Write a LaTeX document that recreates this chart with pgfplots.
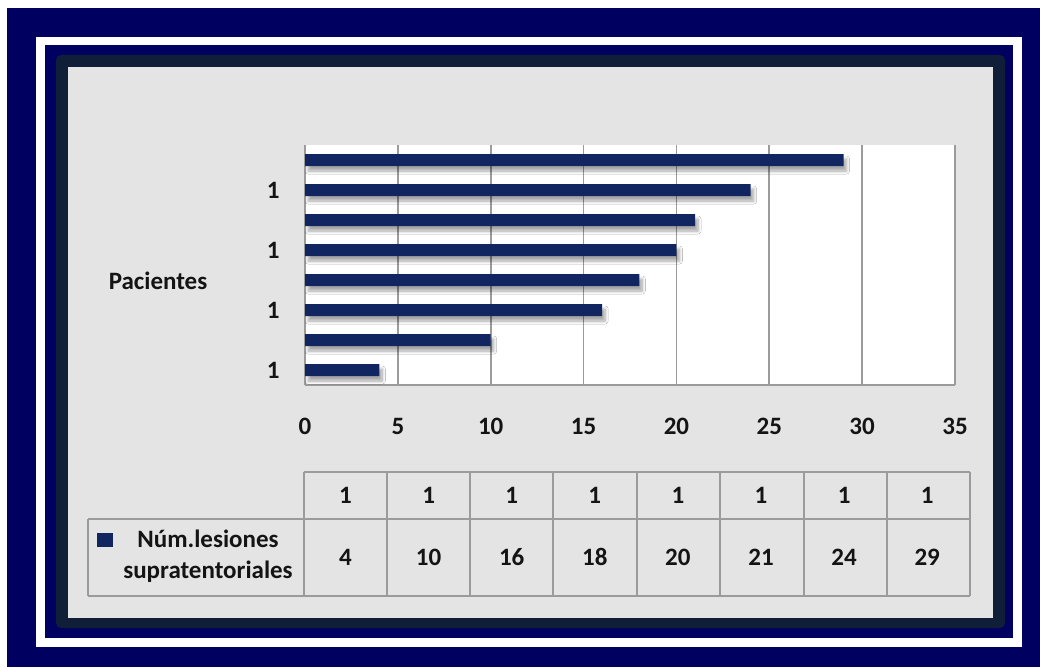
\documentclass[border=0pt]{standalone}
\usepackage{pgfplots}
\pgfplotsset{compat=1.18}
\usepackage{fontspec}
\setmainfont{Carlito}
\usetikzlibrary{shadows.blur}
\definecolor{navy}{RGB}{0,0,96}
\definecolor{darkframe}{RGB}{16,30,56}
\definecolor{bgrey}{RGB}{228,228,228}
\definecolor{barc}{RGB}{17,38,96}
\definecolor{gridc}{RGB}{155,155,155}
\definecolor{txt}{RGB}{20,20,20}
\newcommand{\bigbf}{\fontsize{25}{29}\selectfont\bfseries}
\begin{document}
\begin{tikzpicture}[x=1pt,y=1pt]
\fill[white] (0,0) rectangle (1040,667);
\fill[navy] (7,0) rectangle (1040,659);
\fill[white] (36,20) rectangle (1022,630);
\fill[navy] (45,29) rectangle (1013,622);
\fill[darkframe, rounded corners=5pt] (56,39) rectangle (1005,612);
\fill[bgrey] (68,49) rectangle (993,600);
\begin{axis}[at={(305pt,282pt)}, anchor=south west,
  width=650pt, height=240pt, scale only axis,
  xmin=0, xmax=35, ymin=0.5, ymax=8.5,
  xbar, bar width=12pt,
  xtick={0,5,...,35}, ytick={1,3,5,7}, yticklabels={1,1,1,1},
  axis x line*=bottom, axis y line*=left,
  axis line style={gridc, line width=1.8pt},
  major tick length=0pt,
  xmajorgrids, grid style={gridc, line width=1.6pt},
  axis background/.style={fill=white},
  ticklabel style={font=\bigbf, text=txt},
  /pgf/number format/assume math mode=true,
  xticklabel style={yshift=-30pt},
  yticklabel style={xshift=-22pt},
  clip=false]
\addplot[fill=barc, draw=none, blur shadow={shadow xshift=3pt, shadow yshift=-5pt, shadow blur steps=8, shadow blur radius=3pt, shadow opacity=35}] table {
x y
4 1
10 2
16 3
18 4
20 5
21 6
24 7
29 8
};
\end{axis}
% data table
\begin{scope}[draw=gridc, line width=1.2pt]
\draw (304,195) -- (970,195);
\draw (88,148) -- (970,148);
\draw (88,71) -- (970,71);
\draw (88,71) -- (88,148);
\foreach \x in {304,387,470,553,637,720,804,887,970} \draw (\x,71) -- (\x,195);
\end{scope}
\foreach \v [count=\i from 0] in {4,10,16,18,20,21,24,29} {
  \pgfmathsetmacro\cx{345.5+83.1*\i}
  \node[font=\bigbf, text=txt, anchor=base] at (\cx,164) {1};
  \node[font=\bigbf, text=txt, anchor=base] at (\cx,102) {\v};
}
\fill[barc] (97,120) rectangle (113,134);
\node[font=\bigbf, text=txt, anchor=base] at (208,120) {Núm.lesiones};
\node[font=\bigbf, text=txt, anchor=base] at (208,89) {supratentoriales};
\node[font=\bigbf, text=txt, anchor=base] at (158,377) {Pacientes};
\pgfresetboundingbox
\path[use as bounding box] (0,0) rectangle (1040,667);
\end{tikzpicture}
\end{document}
